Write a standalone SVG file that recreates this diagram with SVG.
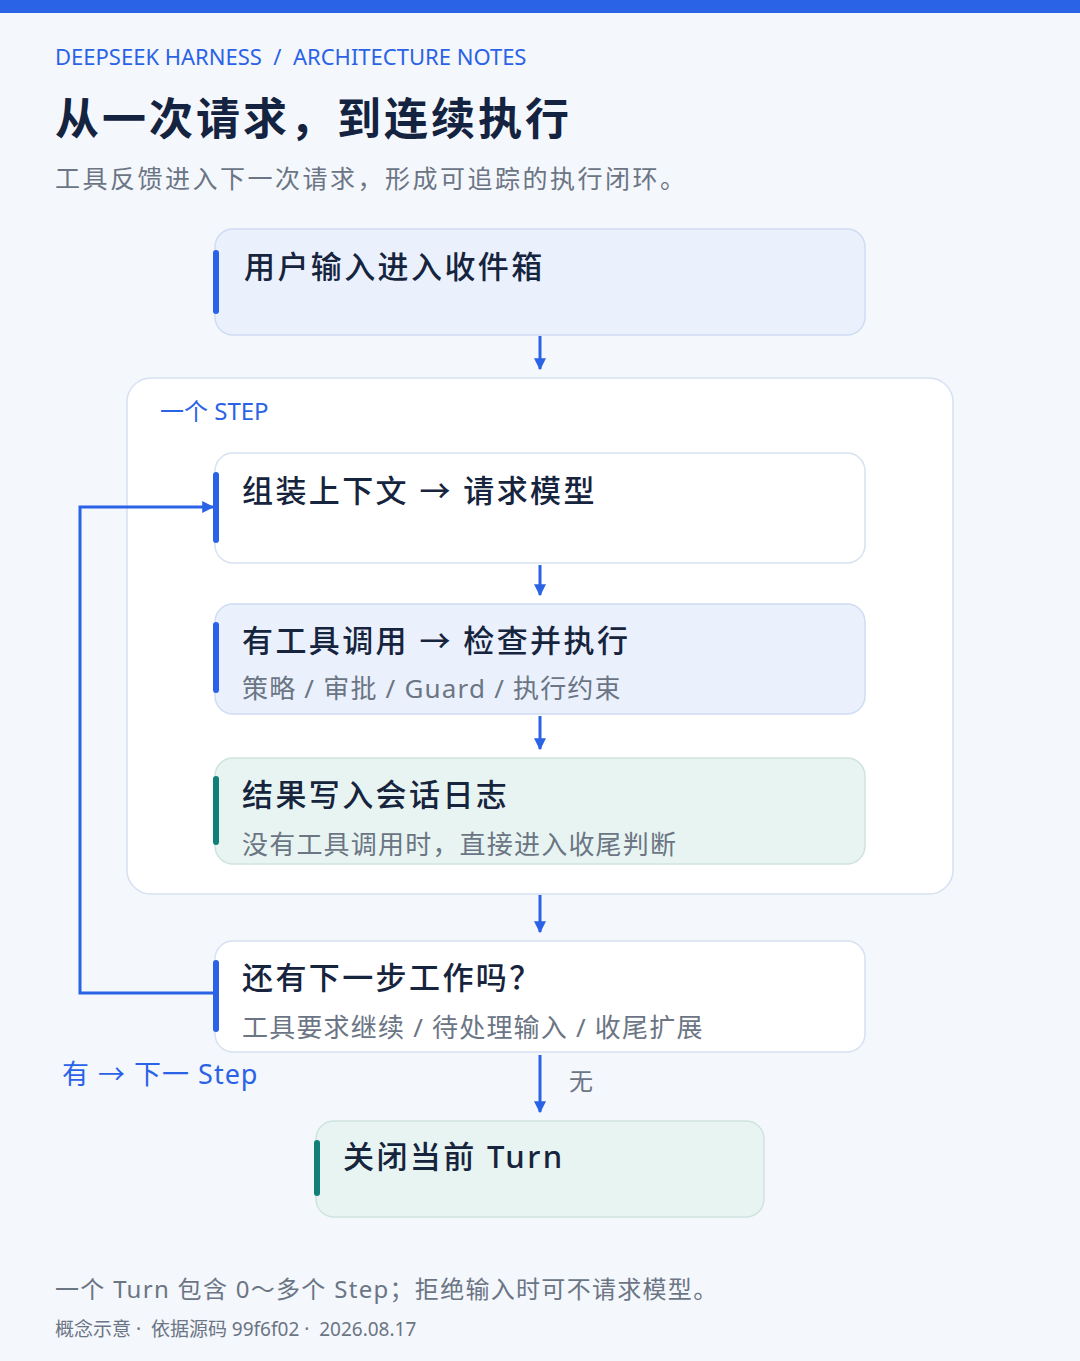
<svg xmlns="http://www.w3.org/2000/svg" width="1080" height="1361" viewBox="0 0 1080 1361">
<defs>
<style>
text{font-family:"Noto Sans","Noto Sans CJK SC",sans-serif}
.t{font-size:31px;fill:#16243d;font-weight:500;letter-spacing:2.4px}
.s{font-size:26px;fill:#6b7584;letter-spacing:1.2px}
.bar{fill:#2b63e6}
.tbar{fill:#12807a}
.ln{stroke:#2b63e6;stroke-width:3;fill:none}
</style>
<marker id="ah" viewBox="0 0 10 10" refX="9" refY="5" markerWidth="4" markerHeight="4" orient="auto"><path d="M0,0L10,5L0,10z" fill="#2b63e6"/></marker>
</defs>
<rect width="1080" height="1361" fill="#f4f7fc"/>
<rect width="1080" height="13" fill="#2b63e6"/>
<text x="55" y="65" font-size="22" fill="#2b63e6" xml:space="preserve">DEEPSEEK HARNESS  /  ARCHITECTURE NOTES</text>
<text x="55" y="135" font-size="44" font-weight="600" fill="#142340" letter-spacing="3">从一次请求，到连续执行</text>
<text x="55" y="188" font-size="25" fill="#6b7584" letter-spacing="2.5">工具反馈进入下一次请求，形成可追踪的执行闭环。</text>
<g id="step-container">
<rect x="127" y="378" width="826" height="516" rx="24" fill="#fff" stroke="#d6e1f1" stroke-width="1.5"/>
<text x="160" y="420" font-size="24" fill="#2b63e6">一个 STEP</text>
</g>
<g id="inbox">
<rect x="215" y="229" width="650" height="106" rx="18" fill="#eaf1fd" stroke="#cfdcf3" stroke-width="1.5"/>
<rect class="bar" x="213" y="250" width="6" height="64" rx="3"/>
<text class="t" x="244" y="278">用户输入进入收件箱</text>
</g>
<g id="assemble">
<rect x="215" y="453" width="650" height="110" rx="18" fill="#fff" stroke="#d6e1f1" stroke-width="1.5"/>
<rect class="bar" x="213" y="472" width="6" height="71" rx="3"/>
<text class="t" x="242" y="502">组装上下文 → 请求模型</text>
</g>
<g id="tools">
<rect x="215" y="604" width="650" height="110" rx="18" fill="#eaf1fd" stroke="#cfdcf3" stroke-width="1.5"/>
<rect class="bar" x="213" y="622" width="6" height="71" rx="3"/>
<text class="t" x="242" y="652">有工具调用 → 检查并执行</text>
<text class="s" x="242" y="698">策略 / 审批 / Guard / 执行约束</text>
</g>
<g id="log">
<rect x="215" y="758" width="650" height="106" rx="18" fill="#e8f4f1" stroke="#cfe3de" stroke-width="1.5"/>
<rect class="tbar" x="213" y="776" width="6" height="69" rx="3"/>
<text class="t" x="242" y="806">结果写入会话日志</text>
<text class="s" x="242" y="854">没有工具调用时，直接进入收尾判断</text>
</g>
<g id="next">
<rect x="215" y="941" width="650" height="111" rx="18" fill="#fff" stroke="#d6e1f1" stroke-width="1.5"/>
<rect class="bar" x="213" y="960" width="6" height="72" rx="3"/>
<text class="t" x="242" y="989">还有下一步工作吗？</text>
<text class="s" x="242" y="1037">工具要求继续 / 待处理输入 / 收尾扩展</text>
</g>
<g id="close">
<rect x="316" y="1121" width="448" height="96" rx="18" fill="#e8f4f1" stroke="#cfe3de" stroke-width="1.5"/>
<rect class="tbar" x="314" y="1140" width="6" height="56" rx="3"/>
<text class="t" x="343" y="1168">关闭当前 Turn</text>
</g>
<g id="connectors">
<path class="ln" d="M540 336V369" marker-end="url(#ah)"/>
<path class="ln" d="M540 565V595" marker-end="url(#ah)"/>
<path class="ln" d="M540 716V749" marker-end="url(#ah)"/>
<path class="ln" d="M540 895V932" marker-end="url(#ah)"/>
<path class="ln" d="M540 1055V1112" marker-end="url(#ah)"/>
<path class="ln" d="M215 993H80V507H213" marker-end="url(#ah)"/>
<text x="62" y="1084" font-size="27" fill="#2b63e6" letter-spacing="1">有 → 下一 Step</text>
<text x="569" y="1090" font-size="24" fill="#6b7584">无</text>
</g>
<text x="55" y="1298" font-size="24" fill="#6b7584" letter-spacing="1.3">一个 Turn 包含 0～多个 Step；拒绝输入时可不请求模型。</text>
<text x="55" y="1336" font-size="19" fill="#6b7584" xml:space="preserve">概念示意 ·  依据源码 99f6f02 ·  2026.08.17</text>
</svg>
